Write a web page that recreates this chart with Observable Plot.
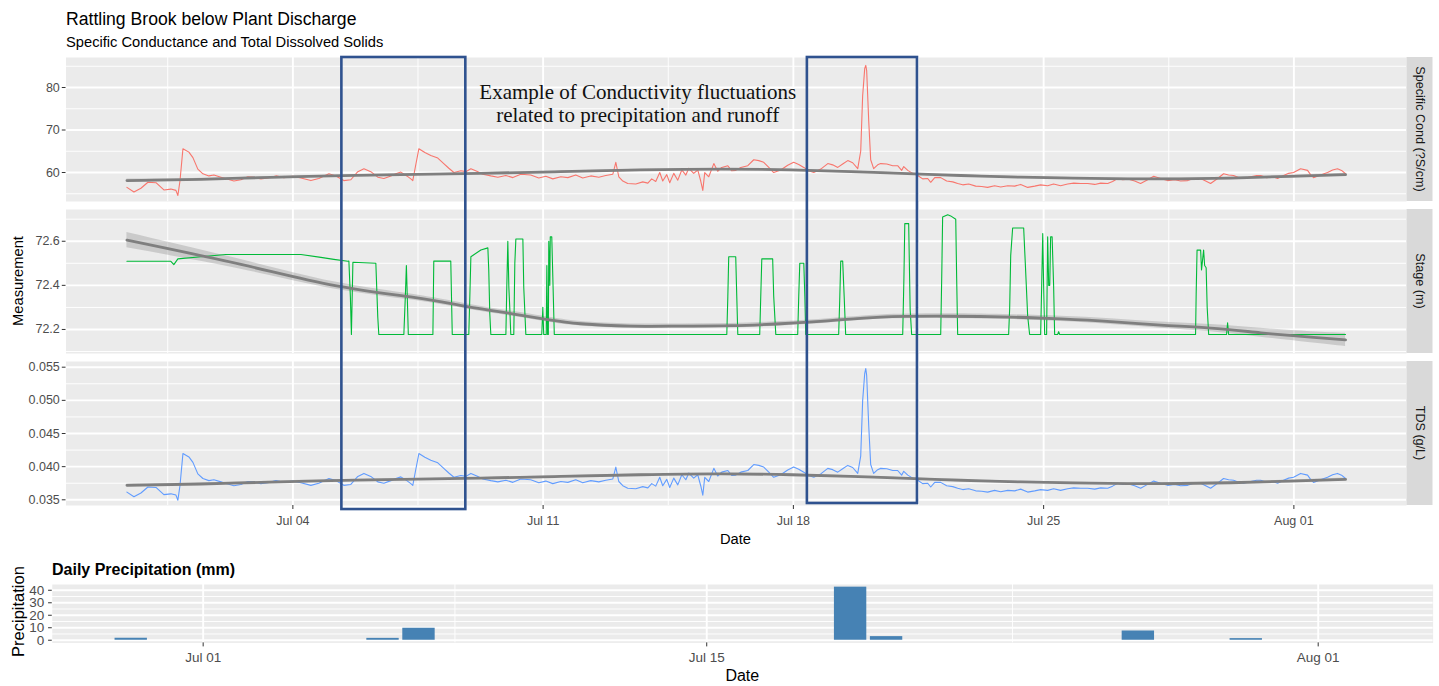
<!DOCTYPE html>
<html><head><meta charset="utf-8">
<script src="https://cdn.jsdelivr.net/npm/d3@7"></script>
<script src="https://cdn.jsdelivr.net/npm/@observablehq/plot@0.6"></script>
<style>
html,body{margin:0;padding:0;background:#fff;}
#root{position:relative;width:1439px;height:686px;overflow:hidden;background:#fff;}
</style></head><body><div id="root"></div>
<script>
// ---------------- DATA ----------------
const title = "Rattling Brook below Plant Discharge";
const subtitle = "Specific Conductance and Total Dissolved Solids";
const yTitle = "Measurement";
const xTitle = "Date";
const facetLabels = ["Specific Cond (?S/cm)", "Stage (m)", "TDS (g/L)"];
const precipTitle = "Daily Precipitation (mm)";
const precipYTitle = "Precipitation";

// time in hours since 2021-06-29 00:00
const scHours = [
  8.6, 13.3, 18.0, 22.7, 28.1, 33.4, 38.1, 41.5, 42.8, 44.2,
  46.2, 50.2, 52.9, 56.2, 59.6, 63.6, 67.0, 71.7, 76.4, 80.4,
  85.1, 89.8, 93.8, 98.5, 103.2, 108.6, 114.0, 120.0, 125.4, 132.1,
  137.4, 144.2, 148.9, 154.2, 158.9, 163.6, 167.7, 172.3, 177.0, 181.1,
  185.8, 189.1, 192.5, 196.5, 199.2, 200.5, 202.6, 204.6, 208.6, 212.6,
  217.3, 221.3, 224.7, 228.1, 232.8, 236.1, 239.5, 243.5, 247.5, 252.9,
  257.6, 263.0, 267.7, 273.0, 279.7, 285.1, 289.8, 294.5, 299.9, 304.6,
  309.9, 314.6, 320.0, 325.4, 330.1, 334.8, 336.8, 338.8, 341.5, 344.8,
  350.2, 354.9, 358.3, 360.9, 363.6, 366.3, 368.3, 371.0, 373.0, 375.7,
  378.4, 381.1, 383.8, 385.8, 389.1, 391.8, 393.8, 395.2, 396.5, 399.2,
  402.6, 405.2, 407.9, 412.0, 414.6, 417.3, 420.7, 425.4, 429.4, 432.8,
  436.1, 439.5, 442.8, 447.5, 452.2, 456.2, 459.6, 463.0, 466.3, 469.7,
  474.4, 479.1, 482.4, 485.8, 489.1, 492.5, 495.8, 499.2, 501.2, 502.5,
  503.9, 504.6, 505.2, 506.6, 507.9, 509.9, 512.6, 514.6, 518.7, 522.7,
  526.0, 528.7, 530.1, 532.8, 536.1, 539.5, 542.8, 546.2, 548.2, 550.9,
  554.9, 558.9, 563.0, 566.3, 569.7, 573.7, 578.4, 582.4, 586.4, 591.1,
  595.2, 599.9, 604.6, 608.6, 613.3, 618.0, 622.0, 626.7, 630.7, 635.4,
  640.1, 644.2, 648.9, 653.6, 658.3, 662.3, 667.0, 670.3, 673.7, 677.0,
  681.1, 685.1, 689.1, 693.2, 697.9, 702.5, 707.2, 712.0, 716.0, 720.7,
  724.7, 729.4, 732.8, 736.1, 740.8, 744.8, 748.2, 751.5, 754.9, 758.3,
  763.0, 767.0, 769.7, 773.7, 777.7, 781.1, 785.1, 788.5, 791.8, 796.5,
  801.2, 803.2, 805.2, 809.9, 814.6, 818.0, 821.3, 824.0, 826.7
];
const specCond = [
  56.5, 55.4, 56.3, 57.7, 57.6, 55.9, 56.1, 55.8, 54.6, 58.0,
  65.6, 64.8, 63.5, 60.8, 59.7, 59.2, 59.4, 58.9, 58.4, 58.0,
  58.3, 59.0, 58.9, 58.5, 58.7, 59.2, 58.8, 59.1, 58.7, 58.1,
  58.6, 59.7, 59.2, 58.1, 58.3, 60.2, 60.9, 60.2, 58.9, 58.6,
  59.2, 59.7, 60.1, 59.2, 58.5, 58.1, 62.0, 65.6, 64.7, 64.0,
  63.4, 62.1, 61.0, 60.0, 60.4, 60.2, 60.9, 60.3, 59.6, 59.2,
  58.9, 59.3, 58.8, 59.6, 59.4, 58.7, 59.1, 58.5, 59.0, 58.8,
  59.4, 58.7, 59.2, 58.9, 59.3, 59.6, 62.4, 59.0, 58.0, 57.4,
  57.3, 57.8, 57.5, 58.5, 57.9, 60.0, 58.0, 59.5, 57.6, 59.8,
  58.2, 60.6, 59.4, 61.0, 59.8, 60.6, 58.0, 55.8, 60.0, 59.0,
  62.1, 60.3, 61.2, 61.6, 60.4, 60.5, 61.2, 61.6, 63.0, 62.8,
  62.4, 61.2, 60.0, 60.6, 61.7, 62.4, 61.9, 61.2, 60.4, 60.0,
  60.8, 62.1, 61.8, 61.2, 62.0, 62.8, 62.3, 60.9, 65.0, 78.0,
  84.5, 85.2, 84.0, 72.0, 63.0, 60.9, 61.8, 62.1, 62.0, 61.6,
  61.6, 60.5, 61.4, 60.5, 59.8, 59.3, 58.5, 58.6, 57.7, 58.8,
  58.8, 58.0, 57.8, 57.4, 57.1, 57.3, 56.8, 56.7, 56.5, 56.9,
  56.6, 56.9, 56.8, 57.2, 56.5, 56.8, 57.1, 56.9, 57.3, 56.9,
  57.3, 57.5, 57.4, 57.4, 57.2, 57.5, 57.4, 57.9, 58.6, 58.3,
  58.4, 58.0, 57.4, 58.2, 59.1, 58.6, 58.1, 58.3, 58.0, 58.1,
  58.6, 58.6, 58.0, 57.4, 58.6, 59.7, 59.4, 59.3, 58.8, 58.6,
  59.0, 59.3, 59.3, 58.8, 59.0, 58.6, 59.3, 59.8, 60.0, 60.9,
  60.5, 59.5, 58.8, 59.4, 60.0, 60.6, 60.9, 60.5, 59.7
];
const tds = [
  0.03616, 0.03546, 0.03603, 0.03693, 0.03686, 0.03578, 0.03590, 0.03571, 0.03494, 0.03712,
  0.04198, 0.04147, 0.04064, 0.03891, 0.03821, 0.03789, 0.03802, 0.03770, 0.03738, 0.03712,
  0.03731, 0.03776, 0.03770, 0.03744, 0.03757, 0.03789, 0.03763, 0.03782, 0.03757, 0.03718,
  0.03750, 0.03821, 0.03789, 0.03718, 0.03731, 0.03853, 0.03898, 0.03853, 0.03770, 0.03750,
  0.03789, 0.03821, 0.03846, 0.03789, 0.03744, 0.03718, 0.03968, 0.04198, 0.04141, 0.04096,
  0.04058, 0.03974, 0.03904, 0.03840, 0.03866, 0.03853, 0.03898, 0.03859, 0.03814, 0.03789,
  0.03770, 0.03795, 0.03763, 0.03814, 0.03802, 0.03757, 0.03782, 0.03744, 0.03776, 0.03763,
  0.03802, 0.03757, 0.03789, 0.03770, 0.03795, 0.03814, 0.03994, 0.03776, 0.03712, 0.03674,
  0.03667, 0.03699, 0.03680, 0.03744, 0.03706, 0.03840, 0.03712, 0.03808, 0.03686, 0.03827,
  0.03725, 0.03878, 0.03802, 0.03904, 0.03827, 0.03878, 0.03712, 0.03571, 0.03840, 0.03776,
  0.03974, 0.03859, 0.03917, 0.03942, 0.03866, 0.03872, 0.03917, 0.03942, 0.04032, 0.04019,
  0.03994, 0.03917, 0.03840, 0.03878, 0.03949, 0.03994, 0.03962, 0.03917, 0.03866, 0.03840,
  0.03891, 0.03974, 0.03955, 0.03917, 0.03968, 0.04019, 0.03987, 0.03898, 0.04160, 0.04992,
  0.05408, 0.05480, 0.05376, 0.04608, 0.04032, 0.03898, 0.03955, 0.03974, 0.03968, 0.03942,
  0.03942, 0.03872, 0.03930, 0.03872, 0.03827, 0.03795, 0.03744, 0.03750, 0.03693, 0.03763,
  0.03763, 0.03712, 0.03699, 0.03674, 0.03654, 0.03667, 0.03635, 0.03629, 0.03616, 0.03642,
  0.03622, 0.03642, 0.03635, 0.03661, 0.03616, 0.03635, 0.03654, 0.03642, 0.03667, 0.03642,
  0.03667, 0.03680, 0.03674, 0.03674, 0.03661, 0.03680, 0.03674, 0.03706, 0.03750, 0.03731,
  0.03738, 0.03712, 0.03674, 0.03725, 0.03782, 0.03750, 0.03718, 0.03731, 0.03712, 0.03718,
  0.03750, 0.03750, 0.03712, 0.03674, 0.03750, 0.03821, 0.03802, 0.03795, 0.03763, 0.03750,
  0.03776, 0.03795, 0.03795, 0.03763, 0.03776, 0.03750, 0.03795, 0.03827, 0.03840, 0.03898,
  0.03872, 0.03808, 0.03763, 0.03802, 0.03840, 0.03878, 0.03898, 0.03872, 0.03821
];

const stageHours = [
  8.6, 38.1, 40.1, 42.8, 58.3, 75.0, 125.4, 138.8, 147.5, 156.9,
  157.6, 158.6, 159.3, 160.3, 175.7, 177.0, 177.7, 194.5, 195.5, 196.2,
  196.8, 197.5, 214.0, 214.6, 226.0, 227.0, 238.1, 238.8, 239.5, 246.2,
  250.9, 251.5, 252.2, 252.9, 263.0, 263.6, 264.3, 265.0, 265.6, 266.3,
  268.3, 269.0, 269.7, 274.4, 275.0, 276.4, 287.1, 287.8, 288.4, 290.1,
  290.5, 291.0, 291.5, 291.8, 292.5, 292.8, 293.8, 294.5, 295.5, 411.3,
  412.0, 412.6, 417.3, 418.0, 418.7, 433.4, 434.1, 434.8, 442.1, 442.8,
  444.2, 458.9, 459.6, 460.3, 463.0, 463.7, 464.3, 486.4, 487.1, 487.8,
  489.1, 490.1, 491.1, 529.4, 530.2, 530.8, 533.4, 534.4, 535.4, 554.9,
  555.6, 556.2, 559.6, 561.6, 565.0, 565.6, 566.3, 600.5, 601.2, 601.9,
  603.2, 610.6, 611.9, 613.3, 614.6, 622.0, 622.7, 623.4, 624.0, 624.7,
  626.0, 626.7, 627.4, 628.1, 628.7, 629.7, 630.7, 631.4, 633.4, 634.1,
  634.8, 726.0, 726.4, 727.0, 729.4, 730.0, 731.4, 732.1, 733.1, 733.8,
  734.8, 746.8, 747.5, 748.2, 826.7
];
const stage = [
  72.509, 72.509, 72.494, 72.520, 72.530, 72.540, 72.540, 72.527, 72.518, 72.509,
  72.510, 72.350, 72.177, 72.505, 72.500, 72.256, 72.177, 72.177, 72.350, 72.490,
  72.350, 72.177, 72.177, 72.510, 72.510, 72.177, 72.177, 72.350, 72.530, 72.560,
  72.570, 72.470, 72.270, 72.177, 72.177, 72.390, 72.600, 72.390, 72.300, 72.177,
  72.177, 72.500, 72.610, 72.610, 72.390, 72.177, 72.177, 72.300, 72.177, 72.177,
  72.490, 72.177, 72.177, 72.600, 72.400, 72.620, 72.620, 72.440, 72.177, 72.177,
  72.350, 72.530, 72.530, 72.350, 72.177, 72.177, 72.350, 72.520, 72.520, 72.350,
  72.177, 72.177, 72.350, 72.500, 72.500, 72.350, 72.177, 72.177, 72.330, 72.510,
  72.510, 72.350, 72.177, 72.177, 72.430, 72.680, 72.680, 72.290, 72.177, 72.177,
  72.440, 72.710, 72.720, 72.715, 72.700, 72.440, 72.177, 72.177, 72.295, 72.536,
  72.660, 72.660, 72.470, 72.260, 72.177, 72.177, 72.400, 72.635, 72.400, 72.177,
  72.177, 72.620, 72.400, 72.400, 72.620, 72.620, 72.400, 72.177, 72.177, 72.190,
  72.177, 72.177, 72.360, 72.560, 72.560, 72.470, 72.560, 72.490, 72.480, 72.300,
  72.177, 72.177, 72.230, 72.177, 72.177
];

// smoothed trend (loess) and its standard error band
const smoothHoursSC = [8.6, 58.3, 98.5, 145.5, 192.5, 246.2, 299.9, 353.6, 407.2, 454.2,
  494.5, 528.1, 568.3, 608.6, 655.6, 702.5, 749.5, 789.8, 826.7];
const smoothSC = [58.1, 58.4, 58.8, 59.2, 59.5, 59.8, 60.2, 60.6, 60.8, 60.6,
  60.2, 59.8, 59.3, 58.9, 58.6, 58.5, 58.7, 59.1, 59.5];
const seSC = [0.35, 0.25, 0.2, 0.18, 0.17, 0.16, 0.16, 0.16, 0.16, 0.16,
  0.16, 0.16, 0.16, 0.16, 0.17, 0.18, 0.2, 0.25, 0.35];
const smoothTDS = [0.03718, 0.03738, 0.03763, 0.03789, 0.03808, 0.03827, 0.03853, 0.03878, 0.03891, 0.03878,
  0.03853, 0.03827, 0.03795, 0.03770, 0.03750, 0.03744, 0.03757, 0.03782, 0.03808];
const seTDS = [0.00022, 0.00016, 0.00013, 0.00012, 0.00011, 0.0001, 0.0001, 0.0001, 0.0001, 0.0001,
  0.0001, 0.0001, 0.0001, 0.0001, 0.00011, 0.00012, 0.00013, 0.00016, 0.00022];
const smoothHoursStage = [8.6, 85.1, 147.5, 201.2, 236.1, 268.3, 291.1, 313.3, 346.8, 380.4,
  414.0, 447.5, 481.1, 514.6, 559.6, 601.9, 635.4, 669.0, 702.5, 736.1, 769.7, 803.2, 826.7];
const smoothStage = [72.605, 72.495, 72.400, 72.345, 72.305, 72.270, 72.245, 72.226, 72.215, 72.215,
  72.217, 72.226, 72.240, 72.256, 72.260, 72.256, 72.248, 72.236, 72.220, 72.206, 72.185, 72.165, 72.153];
const seStage = [0.035, 0.022, 0.016, 0.013, 0.012, 0.011, 0.011, 0.010, 0.010, 0.010,
  0.010, 0.010, 0.010, 0.010, 0.011, 0.011, 0.012, 0.013, 0.014, 0.016, 0.020, 0.025, 0.030];

// daily precipitation (mm)
const precipDates = [
  "2021-06-29","2021-06-30","2021-07-01","2021-07-02","2021-07-03","2021-07-04","2021-07-05",
  "2021-07-06","2021-07-07","2021-07-08","2021-07-09","2021-07-10","2021-07-11","2021-07-12",
  "2021-07-13","2021-07-14","2021-07-15","2021-07-16","2021-07-17","2021-07-18","2021-07-19",
  "2021-07-20","2021-07-21","2021-07-22","2021-07-23","2021-07-24","2021-07-25","2021-07-26",
  "2021-07-27","2021-07-28","2021-07-29","2021-07-30","2021-07-31","2021-08-01","2021-08-02"
];
const precip = [
  1.6, 0, 0, 0, 0, 0, 0,
  1.5, 9.6, 0, 0, 0, 0, 0,
  0, 0, 0, 0, 0, 0, 42.5,
  2.9, 0, 0, 0, 0, 0, 0,
  7.4, 0, 0, 1.3, 0, 0, 0
];

// tick labels
const mainTicks = ["2021-07-04","2021-07-11","2021-07-18","2021-07-25","2021-08-01"];
const precipTicks = ["2021-07-01","2021-07-15","2021-08-01"];
const ticksSC = [60, 70, 80];
const ticksStage = [72.2, 72.4, 72.6];
const ticksTDS = [0.035, 0.040, 0.045, 0.050, 0.055];
const ticksPrecip = [0, 10, 20, 30, 40];
const domainSC = [53.18, 87.06];
const domainStage = [72.091, 72.744];
const domainTDS = [0.03414, 0.05586];

// annotation (highlight boxes drawn over the facets, and a note)
const boxStartHours = [152.9, 465.4];
const boxEndHours = [236.1, 539.3];
const boxTop = [1, 1];          // fraction of the facet stack (1 = top of first facet)
const boxBottom = [-0.009, 0.0045];
const noteText = "Example of Conductivity fluctuations\nrelated to precipitation and runoff";
const noteHour = 351.5;
const noteSC = 71.84;

// ---------------- BUILD ----------------
const W = 1439;
const font = '"Liberation Sans", Arial, Helvetica, sans-serif';
const root = document.getElementById("root");
const t0 = Date.UTC(2021, 5, 29);
const toDate = h => new Date(t0 + h * 3600e3);
const parseDay = d3.utcParse("%Y-%m-%d");
const fmt = d3.utcFormat("%b %d");

function expand([a, b], f = 0.05) { const p = (b - a) * f; return [a - p, b + p]; }
function minorBreaks(major, domain) {
  const b = major.map(Number);
  const d = b[1] - b[0];
  const ext = [b[0] - d, ...b, b[b.length - 1] + d];
  const out = [];
  for (let i = 0; i < ext.length - 1; i++) out.push((ext[i] + ext[i + 1]) / 2);
  const [lo, hi] = d3.extent(domain.map(Number));
  return out.filter(v => v >= lo && v <= hi);
}
function place(el, top) {
  Object.assign(el.style, {position: "absolute", left: "0px", top: top + "px"});
  root.appendChild(el);
}

const hExt = expand(d3.extent(scHours.concat(stageHours)));
const xDomain = hExt.map(toDate);
const majorX = mainTicks.map(parseDay);
const minorX = minorBreaks(majorX, xDomain).map(v => new Date(v));

const panelTops = [57, 209, 361];
const panelH = 144;
const mLeft = 65.5, mRight = 33;

const scSeries = scHours.map((h, i) => ({t: toDate(h), v: specCond[i]}));
const tdsSeries = scHours.map((h, i) => ({t: toDate(h), v: tds[i]}));
const stageSeries = stageHours.map((h, i) => ({t: toDate(h), v: stage[i]}));
const smSC = smoothHoursSC.map((h, i) => ({t: toDate(h), v: smoothSC[i], lo: smoothSC[i] - seSC[i], hi: smoothSC[i] + seSC[i]}));
const smTDS = smoothHoursSC.map((h, i) => ({t: toDate(h), v: smoothTDS[i], lo: smoothTDS[i] - seTDS[i], hi: smoothTDS[i] + seTDS[i]}));
const smStage = smoothHoursStage.map((h, i) => ({t: toDate(h), v: smoothStage[i], lo: smoothStage[i] - seStage[i], hi: smoothStage[i] + seStage[i]}));

const facets = [
  {series: scSeries, smooth: smSC, color: "#F8766D", domain: domainSC, ticks: ticksSC, format: d3.format("d")},
  {series: stageSeries, smooth: smStage, color: "#00BA38", domain: domainStage, ticks: ticksStage, format: d3.format(".1f")},
  {series: tdsSeries, smooth: smTDS, color: "#619CFF", domain: domainTDS, ticks: ticksTDS, format: d3.format(".3f")}
];

facets.forEach((f, i) => {
  const last = i === facets.length - 1;
  const marks = [
    Plot.frame({fill: "#EBEBEB", stroke: "none"}),
    Plot.ruleY(minorBreaks(f.ticks, f.domain), {stroke: "#fff", strokeWidth: 0.95}),
    Plot.ruleX(minorX, {stroke: "#fff", strokeWidth: 0.95}),
    Plot.ruleY(f.ticks, {stroke: "#fff", strokeWidth: 1.9}),
    Plot.ruleX(majorX, {stroke: "#fff", strokeWidth: 1.9}),
    Plot.areaY(f.smooth, {x: "t", y1: "lo", y2: "hi", fill: "#999999", fillOpacity: 0.4, curve: "natural"}),
    Plot.line(f.series, {x: "t", y: "v", stroke: f.color, strokeWidth: 1.1}),
    Plot.line(f.smooth, {x: "t", y: "v", stroke: "#7F7F7F", strokeWidth: 2.8, curve: "natural"}),
    Plot.axisY(f.ticks, {tickSize: 3.7, tickPadding: 2.5, tickFormat: f.format, stroke: "#333333", fill: "#4D4D4D", label: null})
  ];
  if (i === 0) {
    marks.push(Plot.text([{t: toDate(noteHour), v: noteSC, s: noteText}], {
      x: "t", y: "v", text: "s", fontFamily: '"Liberation Serif", "Times New Roman", serif',
      fontSize: 21, lineAnchor: "bottom", lineHeight: 1.107, fill: "#111", textAnchor: "middle"
    }));
  }
  if (last) {
    marks.push(Plot.axisX(majorX, {tickFormat: fmt, tickSize: 4, tickPadding: 7, stroke: "#333333", fill: "#4D4D4D", label: null}));
  }
  const p = Plot.plot({
    width: W, height: panelH + (last ? 30 : 0),
    marginTop: 0, marginBottom: last ? 30 : 0, marginLeft: mLeft, marginRight: mRight,
    x: {type: "utc", domain: xDomain, axis: null},
    y: {domain: f.domain, axis: null},
    style: {background: "transparent", fontFamily: font, fontSize: "12.5px", overflow: "visible"},
    marks
  });
  place(p, panelTops[i]);
});

// overlay boxes spanning the facet stack
const stackH = panelTops[2] + panelH - panelTops[0];
const boxes = boxStartHours.map((h, i) => ({x1: toDate(h), x2: toDate(boxEndHours[i]), y1: boxBottom[i], y2: boxTop[i]}));
const overlay = Plot.plot({
  width: W, height: stackH, marginTop: 0, marginBottom: 0, marginLeft: mLeft, marginRight: mRight,
  x: {type: "utc", domain: xDomain, axis: null},
  y: {domain: [0, 1], axis: null},
  style: {background: "transparent", overflow: "visible", pointerEvents: "none"},
  marks: [Plot.rect(boxes, {x1: "x1", x2: "x2", y1: "y1", y2: "y2", fill: "none", stroke: "#2F528F", strokeWidth: 2.6})]
});

// precipitation panel
const halfBar = 0.45 * 24 * 3600e3;
const pDays = precipDates.map(parseDay);
const pData = pDays.map((d, i) => ({x1: new Date(+d - halfBar), x2: new Date(+d + halfBar), y0: 0, y: precip[i]}));
const pDomain = expand([+pDays[0] - halfBar, +pDays[pDays.length - 1] + halfBar]).map(v => new Date(v));
const pyDomain = expand([0, d3.max(precip)]);
const pMajorX = precipTicks.map(parseDay);
const pMinorX = minorBreaks(pMajorX, pDomain).map(v => new Date(v));
const pTop = 583.5, pH = 58.4;
const pPlot = Plot.plot({
  width: W, height: pH + 26, marginTop: 0, marginBottom: 26, marginLeft: 51.7, marginRight: 6.3,
  x: {type: "utc", domain: pDomain, axis: null},
  y: {domain: pyDomain, axis: null},
  style: {background: "transparent", fontFamily: font, fontSize: "13.5px", overflow: "visible"},
  marks: [
    Plot.frame({fill: "#EBEBEB", stroke: "none"}),
    Plot.ruleY(minorBreaks(ticksPrecip, pyDomain), {stroke: "#fff", strokeWidth: 0.95}),
    Plot.ruleX(pMinorX, {stroke: "#fff", strokeWidth: 0.95}),
    Plot.ruleY(ticksPrecip, {stroke: "#fff", strokeWidth: 1.9}),
    Plot.ruleX(pMajorX, {stroke: "#fff", strokeWidth: 1.9}),
    Plot.rect(pData, {x1: "x1", x2: "x2", y1: "y0", y2: "y", fill: "#4682B4"}),
    Plot.axisY(ticksPrecip, {tickSize: 3.7, tickPadding: 4.4, stroke: "#333333", fill: "#4D4D4D", label: null}),
    Plot.axisX(pMajorX, {tickFormat: fmt, tickSize: 4, tickPadding: 6, stroke: "#333333", fill: "#4D4D4D", label: null})
  ]
});
place(pPlot, pTop);
place(overlay, panelTops[0]);

// titles, axis titles and facet strips
const svg = d3.select(root).append("svg")
  .attr("width", W).attr("height", 686)
  .style("position", "absolute").style("left", "0px").style("top", "0px")
  .style("pointer-events", "none").style("font-family", font);
svg.append("text").attr("x", 66).attr("y", 25).attr("font-size", 17.6).attr("fill", "#000").text(title);
svg.append("text").attr("x", 66).attr("y", 47).attr("font-size", 14.7).attr("fill", "#000").text(subtitle);
svg.append("text").attr("transform", "translate(22.5,281) rotate(-90)").attr("text-anchor", "middle")
  .attr("font-size", 14.7).attr("fill", "#000").text(yTitle);
svg.append("text").attr("x", 735.5).attr("y", 544).attr("text-anchor", "middle")
  .attr("font-size", 14.7).attr("fill", "#000").text(xTitle);
facetLabels.forEach((lab, i) => {
  svg.append("rect").attr("x", 1406.5).attr("y", panelTops[i]).attr("width", 26).attr("height", panelH).attr("fill", "#D9D9D9");
  svg.append("text").attr("transform", `translate(1419.5,${panelTops[i] + panelH / 2}) rotate(90)`)
    .attr("text-anchor", "middle").attr("dominant-baseline", "central")
    .attr("font-size", 12.6).attr("fill", "#1A1A1A").text(lab);
});
svg.append("text").attr("x", 52).attr("y", 574.5).attr("font-size", 16).attr("font-weight", "bold").attr("fill", "#000").text(precipTitle);
svg.append("text").attr("transform", "translate(24,611.5) rotate(-90)").attr("text-anchor", "middle")
  .attr("font-size", 16.5).attr("fill", "#000").text(precipYTitle);
svg.append("text").attr("x", 742.3).attr("y", 680.5).attr("text-anchor", "middle")
  .attr("font-size", 16).attr("fill", "#000").text(xTitle);
</script></body></html>
